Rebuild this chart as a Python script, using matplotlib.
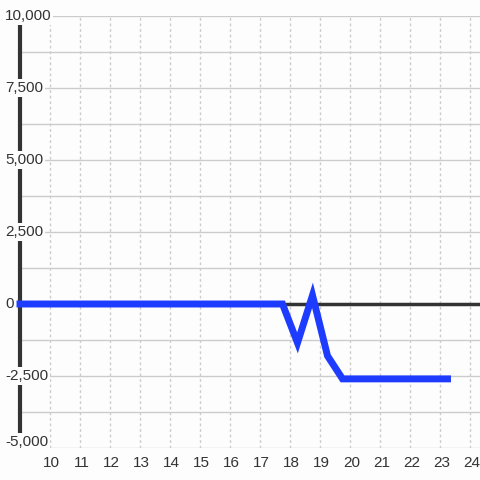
import matplotlib
matplotlib.use("Agg")
import matplotlib.pyplot as plt
from matplotlib.ticker import MultipleLocator, FixedLocator
import matplotlib.transforms as mtransforms

# data
x_vals = [9.0, 17.75, 18.25, 18.75, 19.25, 19.75, 23.25]
y_vals = [0, 0, -1350, 300, -1800, -2600, -2600]

x_ticks = list(range(10, 25))
y_ticks = [10000, 7500, 5000, 2500, 0, -2500, -5000]
y_labels = ["10,000", "7,500", "5,000", "2,500", "0", "-2,500", "-5,000"]

TEXT = "#333333"
GRID = "#cccccc"
BLUE = "#1e3cff"

plt.rcParams['font.family'] = ['Liberation Sans', 'DejaVu Sans']

fig = plt.figure(figsize=(4.8, 4.8), dpi=100, facecolor="#fdfdfd")
# axes box in pixels: left 20, right 480, top 16, bottom 448
ax = fig.add_axes([20/480, 32/480, 460/480, 432/480])
ax.set_facecolor("#fdfdfd")

ax.set_xlim(9, 9 + 460/30)
ax.set_ylim(-5000, 10000)

for s in ax.spines.values():
    s.set_visible(False)

# grid: solid horizontal every 1250, dotted verticals at integers
ax.yaxis.set_major_locator(MultipleLocator(1250))
ax.xaxis.set_major_locator(FixedLocator(x_ticks))
ax.grid(axis='y', color=GRID, lw=1, ls='-', zorder=0)
ax.grid(axis='x', color=GRID, lw=1, ls=(0, (2, 2)), zorder=0)
ax.tick_params(axis='both', length=0)
ax.tick_params(axis='x', labelsize=11, labelcolor=TEXT, pad=6)
ax.set_yticklabels([])
ax.set_xticks(x_ticks)
ax.set_xticklabels([str(t) for t in x_ticks])
for lbl in ax.get_xticklabels():
    lbl.set_transform(lbl.get_transform() + mtransforms.ScaledTranslation(1.5/100, 0, fig.dpi_scale_trans))

# left axis bar and zero baseline
ax.axvline(9, color=TEXT, lw=3, zorder=2, clip_on=False)
ax.axhline(0, color=TEXT, lw=2.5, zorder=2)

ax.plot(x_vals, y_vals, color=BLUE, lw=5, zorder=4, clip_on=False,
        solid_joinstyle='miter', solid_capstyle='projecting')

# y labels sit over the bar on white boxes
trans = mtransforms.blended_transform_factory(fig.transFigure, ax.transData)
for v, lab in zip(y_ticks, y_labels):
    t = ax.text(5/480, v, lab, transform=trans, ha='left', va='center',
                fontsize=11, color=TEXT, zorder=6,
                bbox=dict(boxstyle='square,pad=0.12', fc='#fdfdfd', ec='none'))
    if v == -5000:
        t.set_transform(trans + mtransforms.ScaledTranslation(0, 6/100, fig.dpi_scale_trans))

fig.savefig("out.png", dpi=100, facecolor=fig.get_facecolor())
